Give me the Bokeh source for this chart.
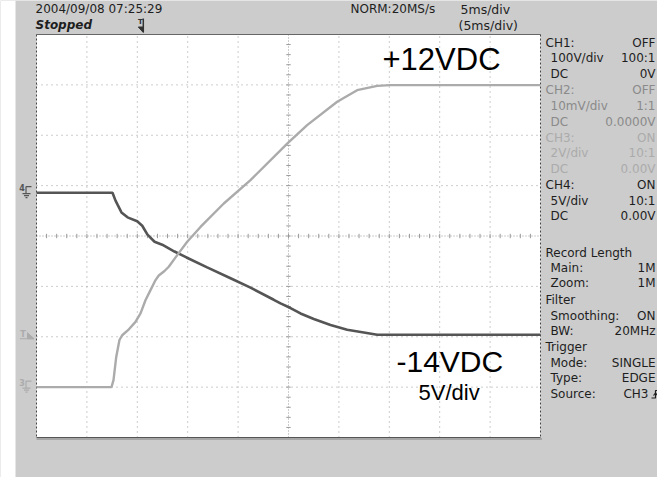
import numpy as np
from bokeh.plotting import figure
from bokeh.models import Range1d, Label
from bokeh.embed import file_html
from bokeh.resources import INLINE

# ---------------- data ----------------
# CH3 (light trace, 2 V/div): time in ms relative to trigger, volts
ch3_time_ms = [-10.0, -2.56, -2.36, -2.09, -1.77, -1.50, -0.92, -0.18, 0.32, 0.81, 1.31,
               1.81, 2.13, 2.70, 3.12, 3.96, 4.95, 6.27, 8.58, 11.23, 14.87, 16.85,
               19.83, 21.81, 23.80, 25.12, 40.0]
ch3_volts = [0.0, 0.0, 0.28, 1.20, 1.87, 2.06, 2.26, 2.59, 2.93, 3.45, 3.85,
             4.25, 4.43, 4.61, 4.78, 5.24, 5.77, 6.36, 7.29, 8.22, 9.67, 10.40,
             11.33, 11.79, 11.96, 11.99, 11.99]
# CH4 (dark trace, 5 V/div)
ch4_time_ms = [-10.0, -2.46, -2.16, -1.96, -1.57, -0.97, -0.01, 0.49, 1.01, 1.71, 2.47,
               3.69, 4.88, 6.93, 9.25, 11.23, 13.54, 14.21, 15.20, 16.19, 17.51, 19.17,
               20.82, 22.47, 23.80, 40.0]
ch4_volts = [0.0, 0.0, -0.79, -1.19, -1.96, -2.45, -2.83, -3.28, -4.17, -4.87, -5.16,
             -5.84, -6.43, -7.42, -8.49, -9.43, -10.63, -10.99, -11.45, -11.99, -12.54, -13.14,
             -13.60, -13.87, -14.10, -14.10]

ms_per_div = 5
ch3_v_per_div = 2
ch4_v_per_div = 5
ch3_ground_div = -3.0
ch4_ground_div = 0.86
trigger_pos_div = 2.0
trigger_level_v = 2.0

header_left = ["2004/09/08 07:25:29", "Stopped"]
header_mid = ["NORM:20MS/s", "5ms/div", "(5ms/div)"]
panel_rows = [
    ("CH1:", "OFF", 0, "dark"), ("100V/div", "100:1", 1, "dark"), ("DC", "0V", 1, "dark"),
    ("CH2:", "OFF", 0, "mid"), ("10mV/div", "1:1", 1, "mid"), ("DC", "0.0000V", 1, "mid"),
    ("CH3:", "ON", 0, "light"), ("2V/div", "10:1", 1, "light"), ("DC", "0.00V", 1, "light"),
    ("CH4:", "ON", 0, "dark"), ("5V/div", "10:1", 1, "dark"), ("DC", "0.00V", 1, "dark"),
]
panel_rows2 = [
    ("Record Length", "", 0), ("Main:", "1M", 1), ("Zoom:", "1M", 1),
    ("Filter", "", 0), ("Smoothing:", "ON", 1), ("BW:", "20MHz", 1),
    ("Trigger", "", 0), ("Mode:", "SINGLE", 1), ("Type:", "EDGE", 1), ("Source:", "CH3", 1),
]
big_labels = ["+12VDC", "-14VDC", "5V/div"]

# ---------------- geometry ----------------
W, H = 657, 477
PAGE = 0
GL, GR, GT, GB = 36.0, 540.0, 34.0, 437.0
dx = (GR - GL) / 10.0
dy = (GB - GT) / 8.0
x_start = -(GL - PAGE) / dx
x_end = x_start + W / dx
y_end = 4 + (GT - PAGE) / dy
y_start = y_end - H / dy


def X(px):
    return (px - GL) / dx


def Y(py):
    return 4 - (py - GT) / dy


BG = "#cccccc"
DARK = "#1e1e1e"
COLS = {"dark": DARK, "mid": "#8a8a8a", "light": "#ababab"}
C3 = "#ababab"
C4 = "#555555"
GRIDC = "#9a9a9a"

p = figure(width=W, height=H, x_range=Range1d(x_start, x_end), y_range=Range1d(y_start, y_end),
           output_backend="svg", toolbar_location=None, min_border=0,
           x_axis_location=None, y_axis_location=None)
p.background_fill_color = BG
p.border_fill_color = BG
p.outline_line_color = None
p.xgrid.visible = False
p.ygrid.visible = False

p.extra_x_ranges = {"ms": Range1d((x_start - trigger_pos_div) * ms_per_div,
                                  (x_end - trigger_pos_div) * ms_per_div)}
p.extra_y_ranges = {
    "ch3": Range1d((y_start - ch3_ground_div) * ch3_v_per_div, (y_end - ch3_ground_div) * ch3_v_per_div),
    "ch4": Range1d((y_start - ch4_ground_div) * ch4_v_per_div, (y_end - ch4_ground_div) * ch4_v_per_div),
}

# left white strip of the page and white screen area
p.quad(left=[x_start], right=[X(15)], bottom=[y_start], top=[y_end], fill_color="white", line_color=None)
p.quad(left=[0], right=[10], bottom=[-4], top=[4], fill_color="white", line_color=None)

# graticule
vx = [i for i in range(1, 10) if i != 5]
p.segment(x0=vx, y0=[-4] * len(vx), x1=vx, y1=[4] * len(vx), line_color=GRIDC, line_dash="1 4", line_width=1)
hy = [j for j in range(-3, 4) if j != 0]
p.segment(x0=[0] * len(hy), y0=hy, x1=[10] * len(hy), y1=hy, line_color=GRIDC, line_dash="1 4", line_width=1)
p.segment(x0=[5, 0], y0=[-4, 0], x1=[5, 10], y1=[4, 0], line_color=GRIDC, line_dash="1 2", line_width=1)
tx = [k * 0.2 for k in range(1, 50)]
p.segment(x0=tx, y0=[2.2 / dy] * len(tx), x1=tx, y1=[-2.2 / dy] * len(tx), line_color=GRIDC, line_width=1)
ty = [k * 0.2 - 4 for k in range(1, 40)]
p.segment(x0=[5 - 2.2 / dx] * len(ty), y0=ty, x1=[5 + 2.2 / dx] * len(ty), y1=ty, line_color=GRIDC, line_width=1)

# screen border
p.segment(x0=[0], y0=[4], x1=[10], y1=[4], line_color="#666666", line_width=1)
p.segment(x0=[0], y0=[-4 - 1.5 / dy], x1=[10 + 1.5 / dx], y1=[-4 - 1.5 / dy], line_color="#9a9a9a", line_width=1.5)
p.segment(x0=[0], y0=[-4], x1=[10], y1=[-4], line_color="#555555", line_width=1)
p.segment(x0=[0, 10], y0=[4, 4], x1=[0, 10], y1=[-4, -4], line_color="#444444", line_dash="2 2", line_width=1)

# traces
p.line(ch4_time_ms, ch4_volts, x_range_name="ms", y_range_name="ch4", line_color=C4, line_width=2.6)
p.line(ch3_time_ms, ch3_volts, x_range_name="ms", y_range_name="ch3", line_color=C3, line_width=2.4)


def lab(px, py, text, size="12px", color=DARK, align="left", font="DejaVu Sans", style="normal"):
    p.add_layout(Label(x=X(px), y=Y(py), text=text, text_font=font, text_font_size=size,
                       text_color=color, text_align=align, text_baseline="middle",
                       text_font_style=style))


# ground / trigger markers on the left
def ground_marker(num, py, color):
    lab(21.5, py - 5, num, size="8px", color=color, align="center", style="bold")
    xs = [[25.5, 25.5, 31], [22, 30], [23.5, 28.5], [25, 27]]
    ys = [[py + 1, py - 6, py - 6], [py + 1, py + 1], [py + 3, py + 3], [py + 5, py + 5]]
    p.multi_line([[X(v) for v in a] for a in xs], [[Y(v) for v in a] for a in ys],
                 line_color=color, line_width=1.2)


py_g3 = GT + (4 - ch3_ground_div) * dy
py_g4 = GT + (4 - ch4_ground_div) * dy
py_tl = GT + (4 - (ch3_ground_div + trigger_level_v / ch3_v_per_div)) * dy
ground_marker("4", py_g4, C4)
ground_marker("3", py_g3, C3)
lab(22.5, py_tl - 2, "T", size="8px", color=C3, align="center", style="bold")
p.segment(x0=[X(19.5)], y0=[Y(py_tl + 2)], x1=[X(33.5)], y1=[Y(py_tl + 2)], line_color=C3, line_width=1.2)
p.patch([X(27), X(33.5), X(27)], [Y(py_tl - 4), Y(py_tl + 2), Y(py_tl + 2)], fill_color=C3, line_color=C3)

# trigger position marker at the top
px_t = GL + trigger_pos_div * dx
lab(px_t + 3, 21.5, "T", size="7px", color="#333333", align="center", style="bold")
p.segment(x0=[X(px_t + 6)], y0=[Y(18)], x1=[X(px_t + 6)], y1=[Y(31.5)], line_color="#333333", line_width=1.5)
p.patch([X(px_t + 1), X(px_t + 6), X(px_t + 6)], [Y(26.5), Y(26.5), Y(32)], fill_color="#333333", line_color="#333333")

# header
lab(35, 8.5, header_left[0], size="12px")
lab(35, 24.5, header_left[1], size="12px", style="bold italic")
lab(350, 8.5, header_mid[0], size="12px")
lab(460, 8.5, header_mid[1], size="12.5px")
lab(458, 24.5, header_mid[2], size="12.5px")

# right panel
row_y = [42, 57.5, 73, 89, 105, 121, 137, 152.5, 168, 184, 200, 215.5]
for (l, r, ind, c), yy in zip(panel_rows, row_y):
    lab(545 + 5 * ind, yy, l, color=COLS[c])
    lab(655, yy, r, color=COLS[c], align="right")
row_y2 = [252, 267, 282, 299, 315, 330, 346, 362, 377, 393]
for (l, r, ind), yy in zip(panel_rows2, row_y2):
    lab(545 + 5 * ind, yy, l)
    if r:
        lab(655 if r != "CH3" else 648, yy, r, align="right")
# rising-edge symbol
p.multi_line([[X(651), X(655), X(655), X(658.5)], [X(653), X(655), X(657)]],
             [[Y(397.5), Y(397.5), Y(390), Y(390)], [Y(395), Y(392.5), Y(395)]],
             line_color=DARK, line_width=1.2)

# big annotations
lab(382, 59, big_labels[0], size="31px", color="black", font="Liberation Sans")
lab(396, 361, big_labels[1], size="30px", color="black", font="Liberation Sans")
lab(418, 392, big_labels[2], size="22px", color="black", font="Liberation Sans")

open("out.html", "w").write(file_html(p, INLINE))
